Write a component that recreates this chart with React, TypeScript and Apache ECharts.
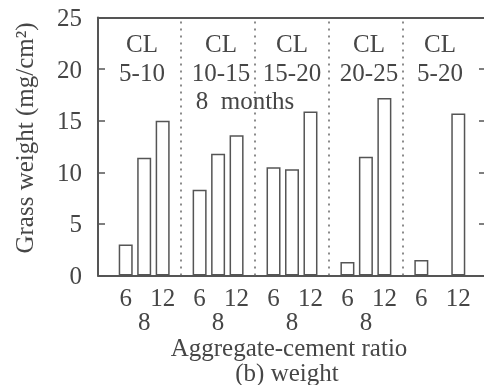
import React, { useEffect, useRef } from "react";
import * as echarts from "echarts";

// category slots: empty strings are spacer slots between the concrete-lump groups
// (the CL 5-20 group has no ratio-8 sample, so its middle slot carries no label)
const slotLabels = ["", "6", "8", "12", "", "6", "8", "12", "", "6", "8", "12", "", "6", "8", "12", "", "6", "", "12", ""];
const groupTop = ["CL", "CL", "CL", "CL", "CL"];
const groupRanges = ["5-10", "10-15", "15-20", "20-25", "5-20"];
const ratios = ["6", "8", "12"];
// grass weight (mg/cm2) for ratio 6, 8, 12 in each group
const cl5_10 = [3.0, 11.4, 15.0];
const cl10_15 = [8.3, 11.8, 13.6];
const cl15_20 = [10.5, 10.3, 15.9];
const cl20_25 = [1.3, 11.5, 17.2];
const cl5_20 = [1.5, null, 15.7];
const yTicks = [0, 5, 10, 15, 20, 25];

const FONT = "Liberation Serif";
const FS = 25;
const TXT = "#464646";
const LINE = "#555555";

export default function App() {
  const ref = useRef<HTMLDivElement>(null);
  useEffect(() => {
    if (!ref.current) return;
    const chart = echarts.init(ref.current, undefined, { renderer: "svg" });
    const groups = [cl5_10, cl10_15, cl15_20, cl20_25, cl5_20];
    const data: (number | null)[] = [null];
    const gapIdx: number[] = [];
    groups.forEach((g) => {
      g.forEach((v) => data.push(v));
      gapIdx.push(data.length);
      data.push(null);
    });
    const sepIdx = gapIdx.slice(0, gapIdx.length - 1);
    const groupX = [142, 221, 292, 369, 440];
    const mk = (text: string, x: number, y: number, rot = 0) => ({
      type: "text",
      x,
      y,
      rotation: rot,
      style: { text, fontFamily: FONT, fontSize: FS, fill: TXT, align: "center", verticalAlign: "middle" },
    });
    const yCommon = {
      type: "value",
      min: yTicks[0],
      max: yTicks[yTicks.length - 1],
      interval: 5,
      axisLine: { show: true, lineStyle: { color: LINE, width: 2 } },
      axisTick: { show: true, inside: true, length: 7, lineStyle: { color: LINE, width: 1.5 } },
      splitLine: { show: false },
    };
    chart.setOption({
      animation: false,
      grid: { left: 98, top: 17.5, right: 4, bottom: 109.5 },
      xAxis: [
        {
          type: "category",
          data: slotLabels,
          axisLine: { show: true, lineStyle: { color: LINE, width: 2 } },
          axisTick: { show: false },
          axisLabel: {
            interval: 0,
            margin: 9,
            color: TXT,
            fontFamily: FONT,
            fontSize: FS,
            formatter: (v: string) => (v === ratios[1] ? "" : v),
          },
        },
        {
          type: "category",
          data: slotLabels,
          position: "bottom",
          axisLine: { show: false },
          axisTick: { show: false },
          axisLabel: {
            interval: 0,
            margin: 33,
            color: TXT,
            fontFamily: FONT,
            fontSize: FS,
            formatter: (v: string) => (v === ratios[1] ? v : ""),
          },
        },
        {
          type: "category",
          data: slotLabels,
          position: "top",
          axisLine: { show: true, lineStyle: { color: LINE, width: 2 } },
          axisTick: { show: false },
          axisLabel: { show: false },
        },
      ],
      yAxis: [
        { ...yCommon, position: "left", axisLabel: { color: TXT, fontFamily: FONT, fontSize: FS, margin: 16 } },
        { ...yCommon, position: "right", axisLabel: { show: false } },
      ],
      series: [
        {
          type: "bar",
          xAxisIndex: 0,
          yAxisIndex: 0,
          data,
          barWidth: 14,
          itemStyle: { color: "#ffffff", borderColor: LINE, borderWidth: 1.5 },
          markLine: {
            silent: true,
            symbol: "none",
            label: { show: false },
            lineStyle: { color: "#666", width: 1.5, type: [2, 5] },
            data: sepIdx.map((i) => ({ xAxis: i })),
          },
        },
      ],
      graphic: [
        ...groupTop.map((t, i) => mk(t, groupX[i], 43)),
        ...groupRanges.map((t, i) => mk(t, groupX[i], 72)),
        mk("8  months", 245, 100),
        mk("Aggregate-cement ratio", 289, 347.5),
        mk("(b) weight", 287, 372.5),
        mk("Grass weight (mg/cm²)", 24, 138, Math.PI / 2),
      ],
    });
    return () => chart.dispose();
  }, []);
  return (
    <div>
      <div ref={ref} style={{ position: "fixed", left: 0, top: 0, width: 490, height: 385 }} />
    </div>
  );
}
